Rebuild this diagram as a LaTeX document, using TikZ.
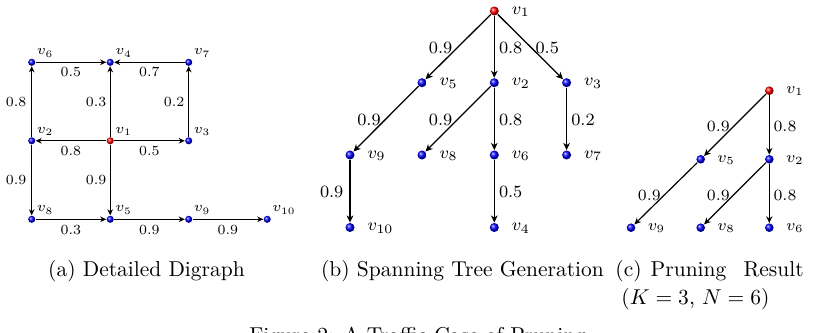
\RequirePackage{fix-cm}
\documentclass[tikz,border=0pt]{standalone}
\usetikzlibrary{arrows.meta}
\tikzset{
  ballA/.style={circle, shading=ball, ball color=blue, minimum size=3.3pt, inner sep=0pt},
  ballB/.style={circle, shading=ball, ball color=blue, minimum size=4.2pt, inner sep=0pt},
  ballC/.style={circle, shading=ball, ball color=blue, minimum size=4.0pt, inner sep=0pt},
  rootA/.style={ballA, ball color=red},
  rootB/.style={ballB, ball color=red},
  rootC/.style={ballC, ball color=red},
  txtA/.style={font=\fontsize{6.5}{7}\selectfont, inner sep=0pt},
  txtB/.style={font=\fontsize{8}{9}\selectfont, inner sep=0pt},
  txtC/.style={font=\fontsize{7.3}{8}\selectfont, inner sep=0pt},
  labA/.style={txtA, xshift=0.9pt, yshift=0.9pt},
  labB/.style={txtB, xshift=5.7pt, yshift=-0.3pt},
  labC/.style={txtC, xshift=5.4pt, yshift=-0.3pt},
  edgeA/.style={line width=0.45pt, -{Stealth[length=2.8pt,width=2.6pt,inset=0.9pt]}},
  edgeB/.style={line width=0.6pt, -{Stealth[length=3.3pt,width=3.1pt,inset=1pt]}},
  edgeC/.style={line width=0.55pt, -{Stealth[length=3.1pt,width=2.9pt,inset=1pt]}},
  captext/.style={font=\normalsize, inner sep=0pt}
}
\begin{document}
\begin{tikzpicture}[x=0.4651pt, y=-0.4651pt]
\useasboundingbox (0,0) rectangle (817,333);
\clip (0,0) rectangle (817,333);
% ---------- (a) detailed digraph ----------
\node[ballA, label={[labA]above right:$v_6$}] (a6) at (31.7,62.3) {};
\node[ballA, label={[labA]above right:$v_4$}] (a4) at (110.2,62.3) {};
\node[ballA, label={[labA]above right:$v_7$}] (a7) at (188.7,62.3) {};
\node[ballA, label={[labA]above right:$v_2$}] (a2) at (31.7,140.8) {};
\node[rootA, label={[labA]above right:$v_1$}] (a1) at (110.2,140.8) {};
\node[ballA, label={[labA]above right:$v_3$}] (a3) at (188.7,140.8) {};
\node[ballA, label={[labA]above right:$v_8$}] (a8) at (31.7,219.3) {};
\node[ballA, label={[labA]above right:$v_5$}] (a5) at (110.2,219.3) {};
\node[ballA, label={[labA]above right:$v_9$}] (a9) at (188.7,219.3) {};
\node[ballA, label={[labA]above right:$v_{10}$}] (a10) at (267.2,219.3) {};
\draw[edgeA] (a6) -- node[txtA, shift={(0,10)}] {0.5} (a4);
\draw[edgeA] (a7) -- node[txtA, shift={(0,10)}] {0.7} (a4);
\draw[edgeA] (a2) -- node[txtA, shift={(-15.5,0)}] {0.8} (a6);
\draw[edgeA] (a1) -- node[txtA, shift={(-14,0)}] {0.3} (a4);
\draw[edgeA] (a3) -- node[txtA, shift={(-14.5,0)}] {0.2} (a7);
\draw[edgeA] (a1) -- node[txtA, shift={(0,10)}] {0.8} (a2);
\draw[edgeA] (a1) -- node[txtA, shift={(0,10)}] {0.5} (a3);
\draw[edgeA] (a2) -- node[txtA, shift={(-15.5,0)}] {0.9} (a8);
\draw[edgeA] (a1) -- node[txtA, shift={(-14,0)}] {0.9} (a5);
\draw[edgeA] (a8) -- node[txtA, shift={(0,10.5)}] {0.3} (a5);
\draw[edgeA] (a5) -- node[txtA, shift={(0,10.5)}] {0.9} (a9);
\draw[edgeA] (a9) -- node[txtA, shift={(0,10.5)}] {0.9} (a10);
% ---------- (b) spanning tree ----------
\node[rootB, label={[labB]right:$v_1$}] (b1) at (494.3,11) {};
\node[ballB, label={[labB]right:$v_5$}] (b5) at (422,82.7) {};
\node[ballB, label={[labB]right:$v_2$}] (b2) at (494.3,82.7) {};
\node[ballB, label={[labB]right:$v_3$}] (b3) at (566.6,82.7) {};
\node[ballB, label={[labB]right:$v_9$}] (b9) at (350,155) {};
\node[ballB, label={[labB]right:$v_8$}] (b8) at (422,155) {};
\node[ballB, label={[labB]right:$v_6$}] (b6) at (494.3,155) {};
\node[ballB, label={[labB]right:$v_7$}] (b7) at (566.6,155) {};
\node[ballB, label={[labB]right:$v_{10}$}] (b10) at (350,227.5) {};
\node[ballB, label={[labB]right:$v_4$}] (b4) at (494.3,227.5) {};
\draw[edgeB] (b1) -- node[txtB, shift={(-17.6,0.8)}] {0.9} (b5);
\draw[edgeB] (b1) -- node[txtB, shift={(16.4,0.8)}] {0.8} (b2);
\draw[edgeB] (b1) -- node[txtB, shift={(16.8,0.8)}] {0.5} (b3);
\draw[edgeB] (b5) -- node[txtB, shift={(-17,0.8)}] {0.9} (b9);
\draw[edgeB] (b2) -- node[txtB, shift={(-17.6,0.8)}] {0.9} (b8);
\draw[edgeB] (b2) -- node[txtB, shift={(16.4,0.8)}] {0.8} (b6);
\draw[edgeB] (b3) -- node[txtB, shift={(16.4,0.8)}] {0.2} (b7);
\draw[edgeB] (b9) -- node[txtB, shift={(-18.3,0.4)}] {0.9} (b10);
\draw[edgeB] (b6) -- node[txtB, shift={(16.4,0.4)}] {0.5} (b4);
% ---------- (c) pruning result ----------
\node[rootC, label={[labC]right:$v_1$}] (c1) at (769.3,90.7) {};
\node[ballC, label={[labC]right:$v_5$}] (c5) at (700.7,159.3) {};
\node[ballC, label={[labC]right:$v_2$}] (c2) at (769.3,159.3) {};
\node[ballC, label={[labC]right:$v_9$}] (c9) at (631,227.7) {};
\node[ballC, label={[labC]right:$v_8$}] (c8) at (700.7,227.7) {};
\node[ballC, label={[labC]right:$v_6$}] (c6) at (769.3,227.7) {};
\draw[edgeC] (c1) -- node[txtC, shift={(-16.7,1)}] {0.9} (c5);
\draw[edgeC] (c1) -- node[txtC, shift={(15.7,1)}] {0.8} (c2);
\draw[edgeC] (c5) -- node[txtC, shift={(-16.5,1.5)}] {0.9} (c9);
\draw[edgeC] (c2) -- node[txtC, shift={(-16.7,1.5)}] {0.9} (c8);
\draw[edgeC] (c2) -- node[txtC, shift={(15.7,1.5)}] {0.8} (c6);
% ---------- captions ----------
\node[captext] (capa) at (146.5,271) {(a) Detailed Digraph};
\node[captext] (capb) at (462.5,271) {(b) Spanning Tree Generation};
\node[captext, anchor=west] (capc) at (615,271) {(c)\hspace{4.2pt}Pruning\hspace{8pt}Result};
\node[captext, anchor=west] (capc2) at (621,299) {($K=3$, $N=6$)};
\node[captext, anchor=base west] (figcap) at (249,342.5) {Figure 2: A Traffic Case of Pruning};
\end{tikzpicture}
\end{document}
